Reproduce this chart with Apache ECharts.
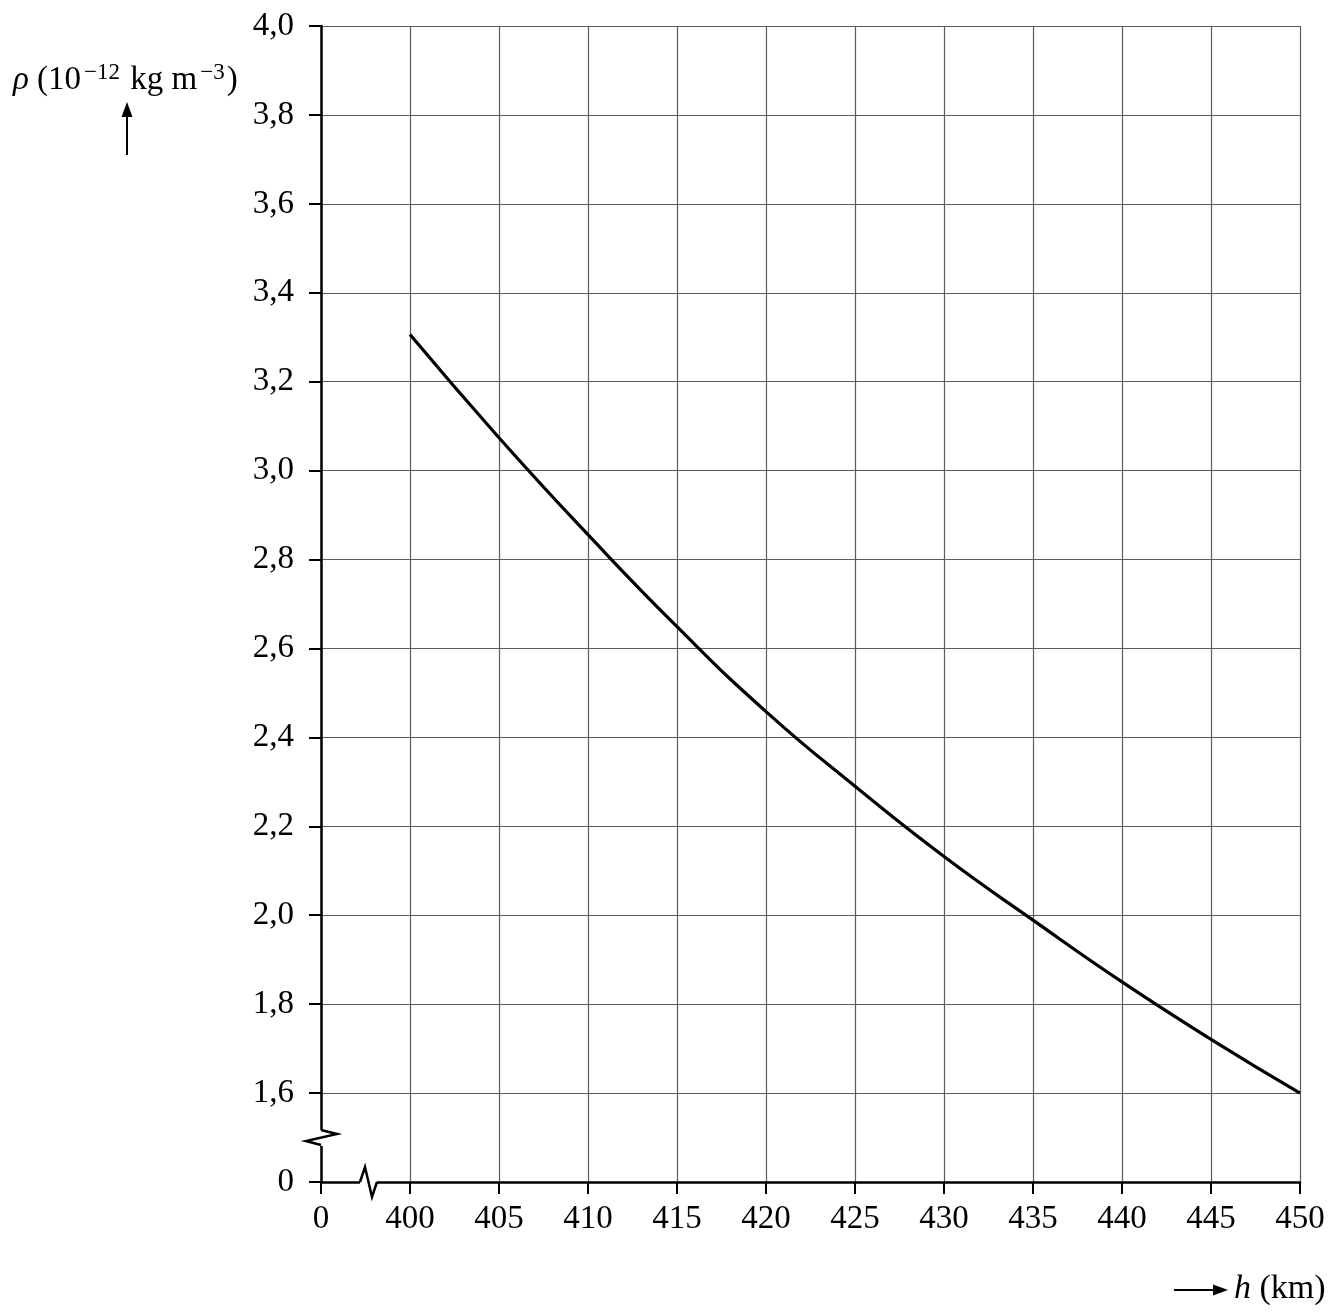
<!DOCTYPE html>
<html><head><meta charset="utf-8">
<script src="https://cdn.jsdelivr.net/npm/echarts@6/dist/echarts.min.js"></script>
<style>html,body{margin:0;padding:0;background:#fff}#c{width:1344px;height:1316px}</style>
</head><body><div id="c"></div>
<script>
// Altitude h (km) and density rho (10^-12 kg m^-3)
const heights   = [400, 405, 410, 415, 420, 425, 430, 435, 440, 445, 450];
const densities = [3.306, 3.074, 2.856, 2.649, 2.458, 2.290, 2.132, 1.989, 1.850, 1.721, 1.600];
// Axis settings (first tick of each axis is the broken "0")
const xMin = 395, xMax = 450, xStep = 5;
const yMin = 1.4, yMax = 4.0, yStep = 0.2;
const xBreakLabel = '0', yBreakLabel = '0';

const FONT = '"Liberation Serif", "DejaVu Serif", serif';
const chart = echarts.init(document.getElementById('c'), null, {renderer: 'canvas'});
const axisCommon = {
  axisLine: {show: true, onZero: false, lineStyle: {color: '#000', width: 2.5}},
  axisTick: {show: true, length: 12, lineStyle: {color: '#000', width: 2}},
  splitLine: {show: true, lineStyle: {color: '#5c5c5c', width: 1.2}},
  axisLabel: {color: '#000', fontFamily: FONT, fontSize: 33}
};
chart.setOption({
  backgroundColor: '#fff',
  animation: false,
  grid: {left: 321, right: 44, top: 26, bottom: 134, containLabel: false},
  xAxis: Object.assign({}, axisCommon, {
    type: 'value', min: xMin, max: xMax, interval: xStep,
    axisLabel: Object.assign({}, axisCommon.axisLabel, {
      margin: 21,
      formatter: v => Math.abs(v - xMin) < 1e-9 ? xBreakLabel : String(v)
    })
  }),
  yAxis: Object.assign({}, axisCommon, {
    type: 'value', min: yMin, max: yMax, interval: yStep,
    axisLabel: Object.assign({}, axisCommon.axisLabel, {
      margin: 27,
      formatter: v => Math.abs(v - yMin) < 1e-9 ? yBreakLabel : v.toFixed(1).replace('.', ',')
    })
  }),
  series: [{
    type: 'line',
    data: heights.map((h, i) => [h, densities[i]]),
    smooth: 0.5,
    showSymbol: false,
    lineStyle: {color: '#000', width: 3.2},
    z: 5
  }]
});

const o = chart.convertToPixel({gridIndex: 0}, [xMin, yMin]);
const ox = o[0], oy = o[1];
chart.setOption({
  graphic: [
    // y-axis break
    {type: 'rect', shape: {x: ox - 6, y: oy - 52, width: 12, height: 16}, style: {fill: '#fff'}, z: 100},
    {type: 'polyline', shape: {points: [[ox, oy - 52], [ox + 16, oy - 48], [ox - 15, oy - 41], [ox, oy - 37]]},
      style: {stroke: '#000', lineWidth: 2.5, fill: null}, z: 101},
    // x-axis break
    {type: 'rect', shape: {x: ox + 39, y: oy - 5, width: 17, height: 10}, style: {fill: '#fff'}, z: 100},
    {type: 'polyline', shape: {points: [[ox + 39, oy], [ox + 44, oy - 15], [ox + 51, oy + 15], [ox + 56, oy]]},
      style: {stroke: '#000', lineWidth: 2.5, fill: null}, z: 101},
    // y-axis title
    {type: 'text', x: 13, y: 80, z: 102,
      style: {text: '{i|ρ} (10{s|−12} kg m{s|−3})', fill: '#000', font: '33px ' + FONT,
        verticalAlign: 'middle', align: 'left',
        rich: {i: {fontStyle: 'italic', fontSize: 33, fontFamily: FONT},
               s: {fontSize: 23, fontFamily: FONT, padding: [0, 2, 15, 3]}}}},
    {type: 'line', shape: {x1: 127, y1: 155, x2: 127, y2: 112}, style: {stroke: '#000', lineWidth: 2}, z: 102},
    {type: 'polygon', shape: {points: [[127, 102], [121.5, 117], [132.5, 117]]}, style: {fill: '#000'}, z: 102},
    // x-axis title
    {type: 'line', shape: {x1: 1174, y1: 1290, x2: 1216, y2: 1290}, style: {stroke: '#000', lineWidth: 2}, z: 102},
    {type: 'polygon', shape: {points: [[1228, 1290], [1213, 1284.5], [1213, 1295.5]]}, style: {fill: '#000'}, z: 102},
    {type: 'text', x: 1234, y: 1289, z: 102,
      style: {text: '{i|h} (km)', fill: '#000', font: '34px ' + FONT, verticalAlign: 'middle', align: 'left',
        rich: {i: {fontStyle: 'italic', fontSize: 34, fontFamily: FONT}}}}
  ]
});
</script></body></html>
